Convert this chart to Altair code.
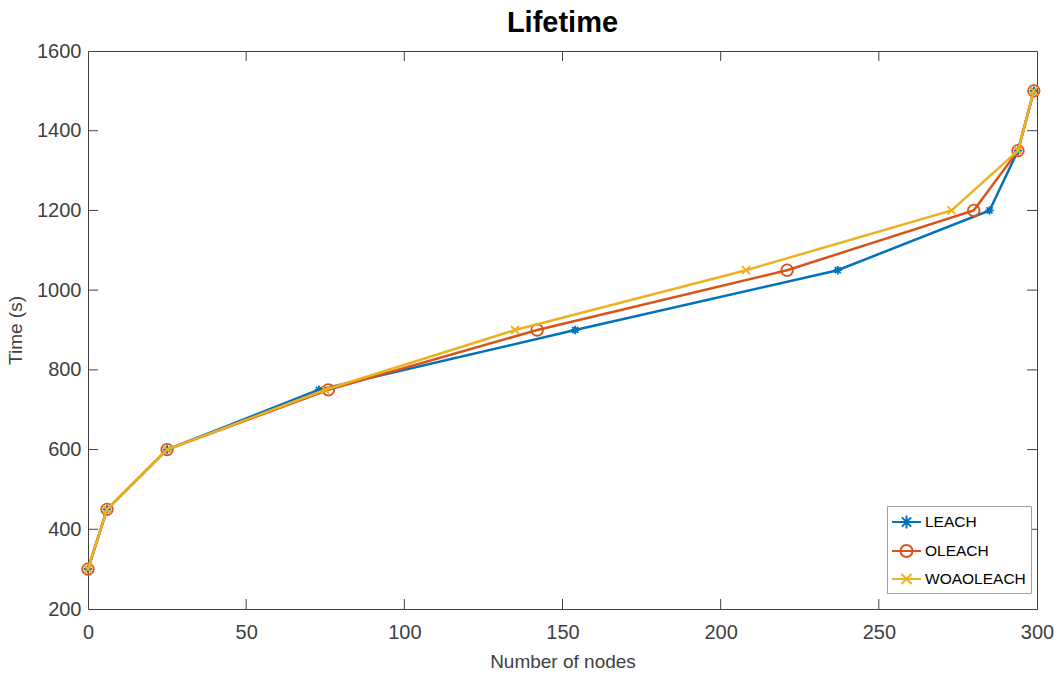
import altair as alt
import pandas as pd

# ---- data ----
series_names = ["LEACH", "OLEACH", "WOAOLEACH"]
series_colors = ["#0072BD", "#D95319", "#EDB120"]

leach_x = [0, 6, 25, 73, 154, 237, 285, 294, 299]
leach_y = [300, 450, 600, 750, 900, 1050, 1200, 1350, 1500]
oleach_x = [0, 6, 25, 76, 142, 221, 280, 294, 299]
oleach_y = [300, 450, 600, 750, 900, 1050, 1200, 1350, 1500]
woa_x = [0, 6, 25, 75, 135, 208, 273, 294, 299]
woa_y = [300, 450, 600, 750, 900, 1050, 1200, 1350, 1500]

x_ticks = [0, 50, 100, 150, 200, 250, 300]
y_ticks = [200, 400, 600, 800, 1000, 1200, 1400, 1600]

# ---- marker shapes (custom SVG paths) ----
m_star = "M-0.85,0H0.85M0,-0.85V0.85M-0.6,-0.6L0.6,0.6M-0.6,0.6L0.6,-0.6"
m_circle = "M1.15,0A1.15,1.15 0 1,1 -1.15,0A1.15,1.15 0 1,1 1.15,0Z"
m_x = "M-0.8,-0.8L0.8,0.8M-0.8,0.8L0.8,-0.8"
markers = [m_star, m_circle, m_x]

# legend symbols: line with marker in the middle (unit = 10px)
c = 0.35
leg_star = (f"M-1.1,0H1.8M{c},-0.65V0.65M{c-0.46},-0.46L{c+0.46},0.46M{c-0.46},0.46L{c+0.46},-0.46")
leg_circle = (f"M-1.1,0H1.8M{c+0.6},0A0.6,0.6 0 1,1 {c-0.6},0A0.6,0.6 0 1,1 {c+0.6},0Z")
leg_x = (f"M-1.1,0H1.8M{c-0.5},-0.5L{c+0.5},0.5M{c-0.5},0.5L{c+0.5},-0.5")
legend_shapes = [leg_star, leg_circle, leg_x]

W, H = 949, 558
FONT = "Liberation Sans"
AX = "#404040"

xs = [leach_x, oleach_x, woa_x]
ys = [leach_y, oleach_y, woa_y]
rows = []
for name, sx, sy in zip(series_names, xs, ys):
    for a, b in zip(sx, sy):
        rows.append({"series": name, "nodes": a, "time": b})
df = pd.DataFrame(rows)

xscale = alt.Scale(domain=[0, 300], nice=False, zero=False, padding=0)
yscale = alt.Scale(domain=[200, 1600], nice=False, zero=False, padding=0)

xaxis = alt.Axis(values=x_ticks, title="Number of nodes", grid=False, domain=False,
                 ticks=False, labelFontSize=20, labelColor=AX, labelPadding=13,
                 labelFlush=False, format="d",
                 titleFontSize=19, titleColor=AX, titleFontWeight="normal",
                 titlePadding=10, labelFont=FONT, titleFont=FONT)
yaxis = alt.Axis(values=y_ticks, title="Time (s)", grid=False, domain=False,
                 ticks=False, labelFontSize=20, labelColor=AX, labelPadding=7,
                 labelFlush=False, format="d",
                 titleFontSize=19, titleColor=AX, titleFontWeight="normal",
                 titlePadding=11, labelFont=FONT, titleFont=FONT)

layers = []

# inward tick marks on all four sides
xt = pd.DataFrame({"t": x_ticks[1:-1]})
yt = pd.DataFrame({"t": y_ticks[1:-1]})
tick_len = 10
layers.append(alt.Chart(xt).mark_rule(color=AX, strokeWidth=1).encode(
    x=alt.X("t:Q", scale=xscale, axis=xaxis), y=alt.value(H), y2=alt.value(H - tick_len)))
layers.append(alt.Chart(xt).mark_rule(color=AX, strokeWidth=1).encode(
    x=alt.X("t:Q", scale=xscale), y=alt.value(0), y2=alt.value(tick_len)))
layers.append(alt.Chart(yt).mark_rule(color=AX, strokeWidth=1).encode(
    y=alt.Y("t:Q", scale=yscale, axis=yaxis), x=alt.value(0), x2=alt.value(tick_len)))
layers.append(alt.Chart(yt).mark_rule(color=AX, strokeWidth=1).encode(
    y=alt.Y("t:Q", scale=yscale), x=alt.value(W), x2=alt.value(W - tick_len)))

for name, col, mk in zip(series_names, series_colors, markers):
    base = alt.Chart(df).transform_filter(alt.datum.series == name)
    layers.append(base.mark_line(strokeWidth=2.5, color=col).encode(
        x=alt.X("nodes:Q", scale=xscale),
        y=alt.Y("time:Q", scale=yscale)))
    layers.append(base.mark_point(filled=False, strokeWidth=1.8, size=100, opacity=1).encode(
        x=alt.X("nodes:Q", scale=xscale),
        y=alt.Y("time:Q", scale=yscale),
        color=alt.value(col),
        shape=alt.value(mk)))

leg = dict(title=None, orient="none", legendX=799, legendY=455, padding=5,
           strokeColor="#a0a0a0", fillColor="#ffffff", symbolSize=400,
           symbolStrokeWidth=2, symbolFillColor="transparent",
           rowPadding=7, labelOffset=11, labelFontSize=15.5, labelFont=FONT,
           labelColor="#000000", cornerRadius=0)

# legend-only layer (no data drawn)
layers.append(alt.Chart(df).transform_filter("false").mark_point(filled=False, opacity=1).encode(
    color=alt.Color("series:N", scale=alt.Scale(domain=series_names, range=series_colors),
                    legend=alt.Legend(**leg)),
    shape=alt.Shape("series:N", scale=alt.Scale(domain=series_names, range=legend_shapes),
                    legend=alt.Legend(**leg))))

chart = alt.layer(*layers).properties(
    width=W, height=H,
    background="#ffffff",
    title=alt.TitleParams("Lifetime", fontSize=29, fontWeight="bold", font=FONT,
                          color="#000000", anchor="middle", offset=3),
    autosize=alt.AutoSizeParams(type="none"),
    padding={"left": 88, "top": 51, "right": 25, "bottom": 71},
).configure_view(stroke=AX, strokeWidth=1).configure_axis(
    grid=False, domain=False, ticks=False)

chart.save("out.html", embed_options={"renderer": "svg", "actions": False})
